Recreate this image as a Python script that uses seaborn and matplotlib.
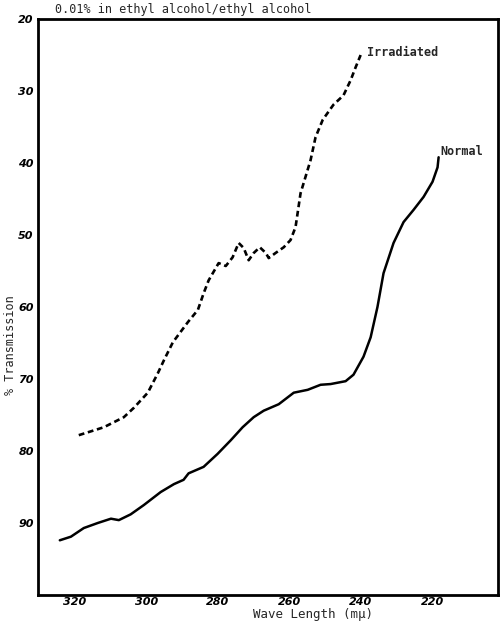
import numpy as np
import pandas as pd
import matplotlib
matplotlib.use("Agg")
import matplotlib.pyplot as plt
import seaborn as sns

sns.set_style("white")

# Normal curve (solid)
normal_wl = [324.2, 321.1, 317.5, 313.6, 309.9, 307.7, 304.4, 300.7, 296.0, 292.3,
             289.6, 288.2, 284.0, 280.1, 276.4, 273.1, 270.0, 267.2, 263.0, 258.8,
             254.9, 251.3, 248.5, 244.3, 242.1, 239.3, 237.3, 235.4, 233.7, 230.9,
             228.1, 225.3, 222.5, 220.0, 218.6, 218.3]
normal_t = [92.4, 91.9, 90.7, 90.0, 89.4, 89.6, 88.8, 87.5, 85.7, 84.6,
            84.0, 83.1, 82.2, 80.4, 78.5, 76.7, 75.3, 74.4, 73.5, 71.9,
            71.5, 70.8, 70.7, 70.3, 69.4, 66.9, 64.2, 60.0, 55.3, 51.1,
            48.2, 46.5, 44.7, 42.6, 40.6, 39.2]

# Irradiated curve (dashed)
irr_wl = [318.9, 311.9, 306.3, 303.5, 299.6, 296.8, 295.1, 292.6, 288.4, 285.6,
          284.0, 282.6, 279.8, 277.8, 275.9, 274.2, 272.8, 271.4, 270.0, 268.3,
          266.6, 265.8, 263.9, 261.6, 259.7, 258.3, 256.9, 255.5, 254.1, 252.7,
          250.7, 247.7, 244.9, 242.9, 241.5, 240.1]
irr_t = [77.8, 76.7, 75.3, 74.0, 71.9, 69.2, 67.4, 64.9, 62.1, 60.4,
         58.1, 56.3, 53.9, 54.3, 53.1, 51.1, 51.8, 53.5, 52.5, 51.7,
         52.5, 53.2, 52.5, 51.7, 50.7, 48.9, 44.2, 41.9, 39.6, 36.4,
         34.0, 31.9, 30.6, 28.5, 26.7, 25.0]

x_ticks = [320, 300, 280, 260, 240, 220]
y_ticks = [20, 30, 40, 50, 60, 70, 80, 90]

normal_df = pd.DataFrame({"wl": normal_wl, "t": normal_t})
irr_df = pd.DataFrame({"wl": irr_wl, "t": irr_t})

fig = plt.figure(figsize=(5, 6.22), dpi=100)
ax = fig.add_axes([0.076, 0.0434, 0.92, 0.926])

sns.lineplot(data=normal_df, x="wl", y="t", ax=ax, color="black", lw=1.8, sort=False)
sns.lineplot(data=irr_df, x="wl", y="t", ax=ax, color="black", lw=1.9, sort=False,
             linestyle=(0, (2.2, 1.4)))

ax.set_xlim(330.3, 201.7)
ax.set_ylim(100, 20)
ax.set_xticks(x_ticks)
ax.set_yticks(y_ticks)
ax.set_xticklabels([str(v) for v in x_ticks], fontsize=8, fontweight="bold", style="italic")
ax.set_yticklabels([str(v) for v in y_ticks], fontsize=8, fontweight="bold", style="italic")
ax.tick_params(axis="both", direction="in", length=4, width=1.2, pad=3, colors="black")
ax.tick_params(axis="x", pad=1.5)

for s in ax.spines.values():
    s.set_color("black")
    s.set_linewidth(2)

ax.set_xlabel("")
ax.set_ylabel("")
fig.text(0.022, 0.445, "% Transmission", family="DejaVu Sans Mono", fontsize=8.5,
         rotation=90, ha="center", va="center")
fig.text(0.626, 0.002, "Wave Length (m\u03bc)", family="DejaVu Sans Mono", fontsize=9,
         ha="center", va="bottom")
fig.text(0.11, 0.995, "0.01% in ethyl alcohol/ethyl alcohol", family="DejaVu Sans Mono",
         fontsize=8.5, ha="left", va="top")

ax.text(238.3, 24.6, "Irradiated", family="DejaVu Sans Mono", fontsize=8.5,
        fontweight="bold", ha="left", va="center")
ax.text(217.8, 38.4, "Normal", family="DejaVu Sans Mono", fontsize=8.5,
        fontweight="bold", ha="left", va="center")

fig.savefig("out.png", dpi=100)
